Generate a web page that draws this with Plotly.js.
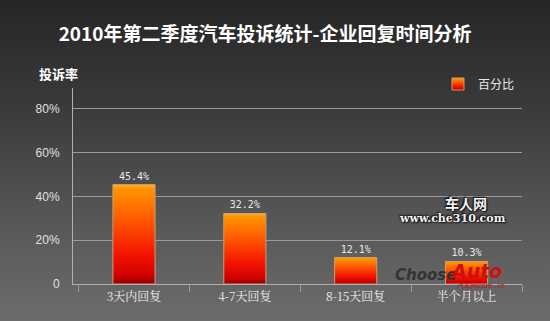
<!DOCTYPE html>
<html>
<head>
<meta charset="utf-8">
<script src="https://cdn.plot.ly/plotly-3.0.1.min.js"></script>
<style>
html,body{margin:0;padding:0;}
body{width:550px;height:321px;overflow:hidden;background:linear-gradient(180deg,#262626 0%,#383838 30%,#585858 70%,#6c6c6c 100%);}
#chart{width:550px;height:321px;}
</style>
</head>
<body>
<div id="chart"></div>
<script>
var categories = ['3天内回复', '4-7天回复', '8-15天回复', '半个月以上'];
var percentValues = [45.4, 32.2, 12.1, 10.3];
var valueLabels = ['45.4%', '32.2%', '12.1%', '10.3%'];
var yTickVals = [0, 20, 40, 60, 80];
var yTickText = ['0', '20%', '40%', '60%', '80%'];
var seriesName = '百分比';

// pixel helpers for annotation placement (plot area 73..522 x, 88..284 y)
function px(x){ return (x - 73) / 449; }
function py(y){ return (284 - y) / 196; }

var trace = {
  type: 'bar',
  x: categories,
  y: percentValues,
  name: seriesName,
  text: valueLabels,
  textposition: 'outside',
  cliponaxis: false,
  textfont: {family: 'DejaVu Sans Mono, Liberation Mono, monospace', size: 10, color: '#e8e8e8'},
  marker: {color: '#f22a00', line: {color: '#c8a070', width: 1}},
  showlegend: true,
  hoverinfo: 'none'
};

var layout = {
  width: 550, height: 321,
  paper_bgcolor: 'rgba(0,0,0,0)',
  plot_bgcolor: 'rgba(0,0,0,0)',
  margin: {l: 73, r: 28, t: 88, b: 37},
  bargap: 0.62,
  showlegend: true,
  title: {
    text: '2010年第二季度汽车投诉统计-企业回复时间分析',
    font: {family: 'Noto Sans CJK SC, sans-serif', size: 19, color: '#ffffff', weight: 'bold'},
    x: 0.482, xanchor: 'center', y: 0.892, yanchor: 'middle'
  },
  xaxis: {
    type: 'category',
    range: [-0.55, 3.5],
    showline: true, linecolor: '#b0b0b0', linewidth: 1,
    tickson: 'boundaries', ticks: 'outside', ticklen: 7, tickcolor: '#9a9a9a',
    showgrid: false,
    tickfont: {family: 'Noto Serif CJK SC, Noto Sans CJK SC, serif', size: 12, color: '#f0f0f0'},
    ticklabelstandoff: 2,
    fixedrange: true
  },
  yaxis: {
    range: [0, 89.5],
    showline: true, linecolor: '#b0b0b0', linewidth: 1,
    tickvals: yTickVals, ticktext: yTickText,
    ticks: '', ticklen: 0,
    showgrid: true, gridcolor: '#9a9a9a', gridwidth: 1,
    zeroline: false,
    tickfont: {family: 'Liberation Sans, Arial, sans-serif', size: 12, color: '#e0e0e0'},
    ticklabelstandoff: 10,
    fixedrange: true
  },
  legend: {
    x: px(438), y: py(84), xanchor: 'left', yanchor: 'middle',
    bgcolor: 'rgba(0,0,0,0)',
    font: {family: 'Noto Sans CJK SC, sans-serif', size: 12, color: '#e8e8e8'},
    itemwidth: 30
  },
  annotations: [
    {text: '<b>投诉率</b>', xref: 'paper', yref: 'paper', x: px(37), y: py(73), xanchor: 'left', yanchor: 'middle', showarrow: false,
     font: {family: 'Noto Sans CJK SC, sans-serif', size: 13, color: '#ffffff'}},
    {text: '<b>车人网</b>', xref: 'paper', yref: 'paper', x: px(466), y: py(203), xanchor: 'center', yanchor: 'middle', showarrow: false,
     font: {family: 'Noto Sans CJK SC, sans-serif', size: 14, color: '#f4f4f4', shadow: '1px 1px 2px #000, -1px -1px 2px #000'}},
    {text: '<b>www.che310.com</b>', xref: 'paper', yref: 'paper', x: px(452), y: py(218), xanchor: 'center', yanchor: 'middle', showarrow: false,
     font: {family: 'DejaVu Serif, serif', size: 11, color: '#f4f4f4', shadow: '1px 1px 2px #000, -1px -1px 2px #000'}},
    {text: '<b><i>Choose</i></b>', xref: 'paper', yref: 'paper', x: px(393), y: py(275), xanchor: 'left', yanchor: 'middle', showarrow: false,
     font: {family: 'DejaVu Sans, sans-serif', size: 15, color: '#333333'}},
    {text: '<b><i>Auto</i></b>', xref: 'paper', yref: 'paper', x: px(448), y: py(271), xanchor: 'left', yanchor: 'middle', showarrow: false,
     font: {family: 'DejaVu Sans, sans-serif', size: 19, color: '#cc1010'}},
    {text: '汽车网com . cn', xref: 'paper', yref: 'paper', x: px(455), y: py(284.5), xanchor: 'left', yanchor: 'middle', showarrow: false,
     font: {family: 'Noto Sans CJK SC, sans-serif', size: 7, color: '#c01010'}}
  ]
};

Plotly.newPlot('chart', [trace], layout, {displayModeBar: false, staticPlot: true}).then(function(gd){
  var svg = gd.querySelector('.main-svg');
  var ns = 'http://www.w3.org/2000/svg';
  var defs = svg.querySelector('defs') || svg.insertBefore(document.createElementNS(ns,'defs'), svg.firstChild);
  var grad = document.createElementNS(ns, 'linearGradient');
  grad.setAttribute('id', 'barGrad');
  grad.setAttribute('x1','0'); grad.setAttribute('y1','0'); grad.setAttribute('x2','0'); grad.setAttribute('y2','1');
  [['0','#ffb030'],['0.04','#ff9500'],['0.35','#ff5a00'],['0.7','#f41400'],['0.92','#d00000'],['1','#8a0000']].forEach(function(s){
    var st = document.createElementNS(ns,'stop');
    st.setAttribute('offset', s[0]); st.setAttribute('stop-color', s[1]);
    grad.appendChild(st);
  });
  defs.appendChild(grad);
  gd.querySelectorAll('.trace.bars .point path, .legendpoints path').forEach(function(p){
    p.style.fill = 'url(#barGrad)';
  });
});
</script>
</body>
</html>
